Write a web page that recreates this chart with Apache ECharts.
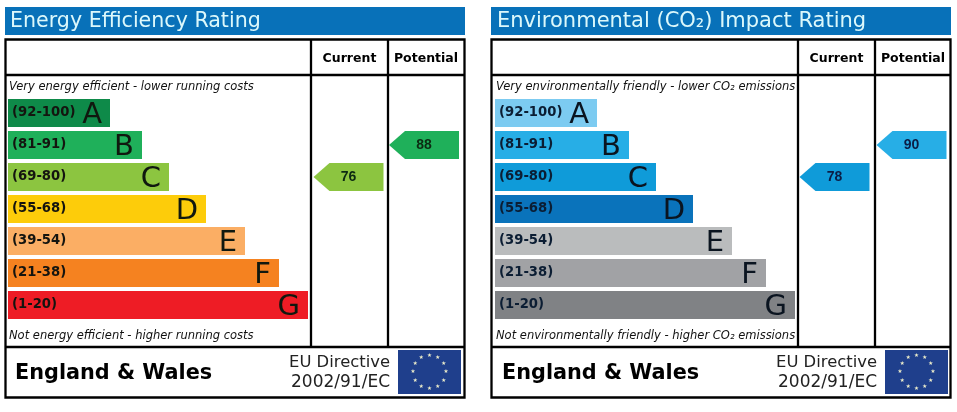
<!DOCTYPE html>
<html>
<head>
<meta charset="utf-8">
<style>
    html, body { margin: 0; padding: 0; background: #fff; }
    #main { width: 957px; height: 412px; }
</style>
<script src="https://cdn.jsdelivr.net/npm/echarts@6/dist/echarts.min.js"></script>
</head>
<body>
<div id="main"></div>
<script>
var ranges = ['(92-100)', '(81-91)', '(69-80)', '(55-68)', '(39-54)', '(21-38)', '(1-20)'];
var letters = ['A', 'B', 'C', 'D', 'E', 'F', 'G'];
var bandFloors = [92, 81, 69, 55, 39, 21, 1];
var barLengths = [102, 134, 161, 198, 237, 271, 300];

var energyColors = ['#0e8a49', '#1fb05a', '#8cc540', '#fdcc0a', '#fbae64', '#f58220', '#ee1c25'];
var co2Colors = ['#7ccbf1', '#27aee6', '#0f9bd9', '#0a73bb', '#babcbd', '#a1a2a5', '#808285'];

var energyRatings = [76, 88];
var co2Ratings = [78, 90];

var panelTitles = ['Energy Efficiency Rating', 'Environmental (CO\u2082) Impact Rating'];
var titleSizes = [20.6, 21];
var topNotes = ['Very energy efficient - lower running costs', 'Very environmentally friendly - lower CO\u2082 emissions'];
var bottomNotes = ['Not energy efficient - higher running costs', 'Not environmentally friendly - higher CO\u2082 emissions'];
var columnNames = ['Current', 'Potential'];

var FONT = '"DejaVu Sans", Verdana, sans-serif';
var ARROW = 'path://M0 14L16 0H70V28H16Z';

function bandIndex(rating) {
    for (var i = 0; i < bandFloors.length; i++) {
        if (rating >= bandFloors[i]) {
            return i;
        }
    }
    return bandFloors.length - 1;
}

// frame, headings and flag of one panel, dx moves the outer box, ix the inside of it
function panelGraphic(p, dx, ix, width) {
    var right = 5 + width;
    var items = [];

    function line(x1, y1, x2, y2) {
        items.push({
            type: 'line', silent: true,
            shape: { x1: x1, y1: y1, x2: x2, y2: y2 },
            style: { stroke: '#000', lineWidth: 2.3 }
        });
    }

    function text(x, y, str, size, opts) {
        opts = opts || {};
        items.push({
            type: 'text', silent: true, x: x, y: y,
            style: {
                text: str,
                fill: opts.fill || '#000',
                font: (opts.style || 'normal') + ' ' + (opts.weight || 'normal') + ' ' + size + 'px ' + FONT,
                textAlign: opts.align || 'left',
                textVerticalAlign: 'middle'
            }
        });
    }

    items.push({
        type: 'rect', silent: true,
        shape: { x: 5 + dx, y: 7, width: width, height: 28 },
        style: { fill: '#0871b9' }
    });
    text(10 + ix, 22, panelTitles[p], titleSizes[p], { fill: '#dcf8fb' });

    items.push({
        type: 'rect', silent: true,
        shape: { x: 5.5 + dx, y: 39.5, width: width - 1, height: 358 },
        style: { fill: 'none', stroke: '#000', lineWidth: 2.3 }
    });
    line(5 + dx, 75, right + dx, 75);
    line(5 + dx, 347, right + dx, 347);
    line(311 + ix, 39, 311 + ix, 347);
    line(388 + ix, 39, 388 + ix, 347);

    text(349.5 + ix, 59, columnNames[0], 12.5, { weight: 'bold', align: 'center' });
    text(426 + ix, 59, columnNames[1], 12.5, { weight: 'bold', align: 'center' });

    text(9 + ix, 87.5, topNotes[p], 11.5, { style: 'italic', fill: '#111' });
    text(9 + ix, 336.5, bottomNotes[p], 11.5, { style: 'italic', fill: '#111' });

    text(15 + ix, 374, 'England & Wales', 20.8, { weight: 'bold' });
    text(390 + ix, 363, 'EU Directive', 16.4, { align: 'right', fill: '#222' });
    text(390 + ix, 383, '2002/91/EC', 17, { align: 'right', fill: '#222' });

    items.push({
        type: 'rect', silent: true,
        shape: { x: 398 + ix, y: 350, width: 63, height: 44 },
        style: { fill: '#1f3f8c' }
    });
    for (var i = 0; i < 12; i++) {
        var a = i * Math.PI / 6;
        items.push({
            type: 'text', silent: true,
            x: 429.5 + ix + 16.5 * Math.sin(a),
            y: 372 - 16.5 * Math.cos(a),
            style: {
                text: '\u2605', fill: '#eeeecb',
                font: '5.5px "DejaVu Sans"',
                textAlign: 'center', textVerticalAlign: 'middle'
            }
        });
    }
    return items;
}

function barSeries(axis, colors, textColor) {
    return {
        type: 'bar',
        xAxisIndex: axis,
        yAxisIndex: axis,
        barWidth: 28,
        silent: true,
        data: barLengths.map(function (v, i) {
            return { value: v, itemStyle: { color: colors[i] } };
        }),
        label: {
            show: true,
            position: 'insideRight',
            distance: 8,
            offset: [0, 2],
            fontFamily: FONT,
            fontSize: 29,
            color: textColor,
            formatter: function (params) {
                return letters[params.dataIndex];
            }
        }
    };
}

function arrowSeries(axis, ratings, columns, colorList, textColor) {
    return {
        type: 'scatter',
        xAxisIndex: axis,
        yAxisIndex: axis,
        silent: true,
        symbol: ARROW,
        symbolSize: [70, 28],
        data: ratings.map(function (r, i) {
            var idx = bandIndex(r);
            return {
                value: [columns[i], idx, r],
                itemStyle: { color: colorList[idx], opacity: 1 }
            };
        }),
        label: {
            show: true,
            position: 'inside',
            fontFamily: '"Liberation Sans", sans-serif',
            fontWeight: 'bold',
            fontSize: 14,
            color: textColor,
            formatter: function (params) {
                return params.value[2];
            }
        }
    };
}

function xAxisFor(g) {
    return { type: 'value', gridIndex: g, min: 0, max: 451, show: false };
}

function yAxisFor(g, color) {
    return {
        type: 'category',
        gridIndex: g,
        inverse: true,
        data: ranges,
        axisLine: { show: false },
        axisTick: { show: false },
        splitLine: { show: false },
        axisLabel: {
            inside: true,
            margin: 4,
            padding: [4, 0, 0, 0],
            fontFamily: FONT,
            fontWeight: 'bold',
            fontSize: 13.2,
            color: color
        },
        z: 5
    };
}

var myChart = echarts.init(document.getElementById('main'), null, { renderer: 'canvas' });

myChart.setOption({
    animation: false,
    backgroundColor: '#fff',
    grid: [
        { left: 8, top: 97, width: 451, height: 224 },
        { left: 495, top: 97, width: 451, height: 224 }
    ],
    xAxis: [xAxisFor(0), xAxisFor(1)],
    yAxis: [yAxisFor(0, '#14140f'), yAxisFor(1, '#0b1d33')],
    graphic: panelGraphic(0, 0, 0, 460).concat(panelGraphic(1, 486, 487, 460)),
    series: [
        barSeries(0, energyColors, '#10180f'),
        arrowSeries(0, energyRatings, [340.5, 416], energyColors, '#0c2a12'),
        barSeries(1, co2Colors, '#0a1420'),
        arrowSeries(1, co2Ratings, [339.5, 416.5], co2Colors, '#0b1d45')
    ]
});
</script>
</body>
</html>
